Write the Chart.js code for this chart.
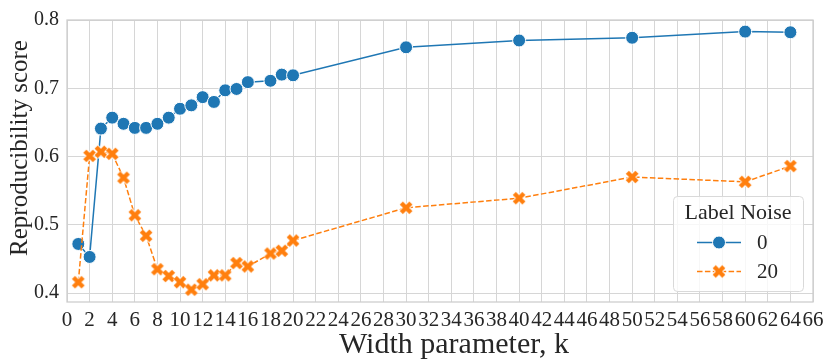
<!DOCTYPE html>
<html>
<head>
<meta charset="utf-8">
<script src="https://cdn.jsdelivr.net/npm/chart.js@4.4.0/dist/chart.umd.min.js"></script>
<style>
    html, body { margin: 0; padding: 0; background: #fff; }
    #chart { display: block; }
</style>
</head>
<body>
<canvas id="chart" width="830" height="364"></canvas>
<script>
/*Data*/
var widthK = [1, 2, 3, 4, 5, 6, 7, 8, 9, 10, 11, 12, 13, 14, 15, 16, 18, 19, 20, 30, 40, 50, 60, 64];
var scoreNoise0 = [0.472, 0.453, 0.641, 0.657, 0.648, 0.642, 0.642, 0.648, 0.657, 0.670, 0.675, 0.687, 0.680,
                   0.697, 0.699, 0.709, 0.711, 0.720, 0.719, 0.760, 0.770, 0.774, 0.783, 0.782];
var scoreNoise20 = [0.416, 0.601, 0.607, 0.604, 0.569, 0.514, 0.484, 0.435, 0.425, 0.416, 0.405, 0.413, 0.426,
                    0.426, 0.444, 0.439, 0.458, 0.462, 0.477, 0.525, 0.539, 0.570, 0.563, 0.586];
var noiseLabels = ['0', '20'];
var yTicks = [0.4, 0.5, 0.6, 0.7, 0.8];
var xTitle = 'Width parameter, k';
var yTitle = 'Reproducibility score';

var blue = '#1f77b4';
var orange = '#ff7f0e';
var gridColor = '#d6d6d6';
var textColor = '#262626';
var serif = '"Liberation Serif", "DejaVu Serif", serif';

/*Filled X marker like seaborn 'X'*/
function makeCross(size, color) {
    var c = document.createElement('canvas');
    c.width = size;
    c.height = size;
    var g = c.getContext('2d');
    var h = size / 2, r = size / 2 - 3.2;
    function arms(width, style) {
        g.strokeStyle = style;
        g.lineWidth = width;
        g.lineCap = 'butt';
        g.beginPath();
        g.moveTo(h - r, h - r); g.lineTo(h + r, h + r);
        g.moveTo(h - r, h + r); g.lineTo(h + r, h - r);
        g.stroke();
    }
    arms(6, '#ffffff');
    arms(4.4, color);
    return c;
}
var crossMarker = makeCross(16, orange);

function toPoints(xs, ys) {
    var out = [];
    xs.forEach(function(x, i) { out.push({x: x, y: ys[i]}); });
    return out;
}

/*Frame around the plot area + axis titles*/
var framePlugin = {
    id: 'frame',
    beforeDatasetsDraw: function(chart) {
        var a = chart.chartArea, ctx = chart.ctx;
        ctx.save();
        ctx.strokeStyle = '#cccccc';
        ctx.lineWidth = 1.25;
        ctx.strokeRect(a.left, a.top, a.right - a.left, a.bottom - a.top);

        ctx.fillStyle = textColor;
        ctx.textAlign = 'center';
        ctx.textBaseline = 'middle';
        ctx.font = '30px ' + serif;
        ctx.fillText(xTitle, 454, 345);

        ctx.translate(20, 148);
        ctx.rotate(-Math.PI / 2);
        ctx.font = '25px ' + serif;
        ctx.fillText(yTitle, 0, 0);
        ctx.restore();
    }
};

/*Legend box inside the plot*/
var legendPlugin = {
    id: 'noiseLegend',
    afterDatasetsDraw: function(chart) {
        var ctx = chart.ctx;
        var bx = 673, by = 196, bw = 130, bh = 95;
        ctx.save();
        ctx.fillStyle = 'rgba(255,255,255,0.8)';
        ctx.strokeStyle = '#d9d9d9';
        ctx.lineWidth = 1;
        ctx.beginPath();
        ctx.roundRect(bx + 0.5, by + 0.5, bw, bh, 4);
        ctx.fill();
        ctx.stroke();

        ctx.fillStyle = textColor;
        ctx.textAlign = 'center';
        ctx.textBaseline = 'middle';
        ctx.font = '22px ' + serif;
        ctx.fillText('Label Noise', 738, 213);

        var rows = [242.5, 271.5];
        /*Row 0*/
        ctx.strokeStyle = blue;
        ctx.lineWidth = 1.5;
        ctx.setLineDash([]);
        ctx.beginPath();
        ctx.moveTo(697, rows[0]); ctx.lineTo(741, rows[0]);
        ctx.stroke();
        ctx.beginPath();
        ctx.arc(719, rows[0], 6.5, 0, Math.PI * 2);
        ctx.fillStyle = blue;
        ctx.fill();
        ctx.strokeStyle = '#ffffff';
        ctx.lineWidth = 1;
        ctx.stroke();
        /*Row 1*/
        ctx.strokeStyle = orange;
        ctx.lineWidth = 1.5;
        ctx.setLineDash([5.5, 2.4]);
        ctx.beginPath();
        ctx.moveTo(697, rows[1]); ctx.lineTo(741, rows[1]);
        ctx.stroke();
        ctx.setLineDash([]);
        ctx.drawImage(crossMarker, 719 - 8, rows[1] - 8);

        ctx.fillStyle = textColor;
        ctx.textAlign = 'left';
        ctx.font = '21px ' + serif;
        ctx.fillText(noiseLabels[0], 757, rows[0] + 1);
        ctx.fillText(noiseLabels[1], 757, rows[1] + 1);
        ctx.restore();
    }
};

var ctx = document.getElementById('chart').getContext('2d');
var chart = new Chart(ctx, {
    type: 'line',
    data: {
        datasets: [{
            label: noiseLabels[0],
            data: toPoints(widthK, scoreNoise0),
            borderColor: blue,
            backgroundColor: blue,
            borderWidth: 1.5,
            pointRadius: 6.5,
            pointHoverRadius: 6.5,
            pointBackgroundColor: blue,
            pointBorderColor: '#ffffff',
            pointBorderWidth: 1,
            tension: 0,
            order: 1
        }, {
            label: noiseLabels[1],
            data: toPoints(widthK, scoreNoise20),
            borderColor: orange,
            backgroundColor: orange,
            borderWidth: 1.5,
            borderDash: [5.5, 2.4],
            pointStyle: crossMarker,
            pointRadius: 7,
            tension: 0,
            order: 0
        }]
    },
    options: {
        responsive: false,
        animation: false,
        layout: { padding: { top: 13, right: 17, left: 0, bottom: 0 } },
        plugins: {
            legend: { display: false },
            tooltip: { enabled: false }
        },
        scales: {
            x: {
                type: 'linear',
                min: 0,
                max: 66,
                grid: { color: gridColor, lineWidth: 1, drawTicks: false },
                border: { display: false },
                ticks: {
                    stepSize: 2,
                    autoSkip: false,
                    maxRotation: 0,
                    padding: 6,
                    color: textColor,
                    font: { family: serif, size: 21 }
                },
                afterFit: function(scale) { scale.height = 62; }
            },
            y: {
                min: 0.387,
                max: 0.8,
                grid: { color: gridColor, lineWidth: 1, drawTicks: false },
                border: { display: false },
                afterBuildTicks: function(scale) {
                    scale.ticks = yTicks.map(function(v) { return {value: v}; });
                },
                ticks: {
                    padding: 8,
                    color: textColor,
                    font: { family: serif, size: 20 },
                    callback: function(v) { return v.toFixed(1); }
                },
                afterFit: function(scale) { scale.width = 67; }
            }
        }
    },
    plugins: [framePlugin, legendPlugin]
});
</script>
</body>
</html>
